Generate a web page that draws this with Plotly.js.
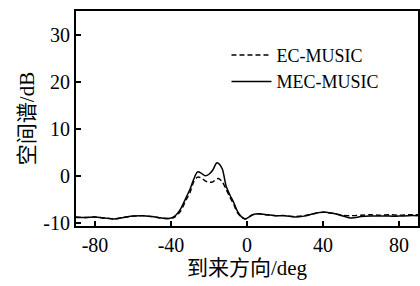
<!DOCTYPE html>
<html>
<head>
<meta charset="utf-8">
<script src="https://cdn.plot.ly/plotly-3.0.1.min.js"></script>
<style>html,body{margin:0;padding:0;background:#fff;}#chart{width:420px;height:286px;}</style>
</head>
<body>
<div id="chart"></div>
<script>
const angles = [-90,-85,-80,-75,-70,-65,-60,-55,-50,-45,-41,-38,-35,-32,-30,-28,-26,-24,-22,-20,-18,-16,-15,-13,-11,-9,-7,-5,-3,-1,1,3,6,10,15,20,25,30,35,40,45,50,55,60,65,70,75,80,85,90];
const ecMusic = [-8.7,-8.8,-8.7,-8.9,-9.1,-8.8,-8.5,-8.4,-8.6,-8.9,-9.0,-8.7,-7.5,-5.0,-3.5,-1.2,-0.2,-0.4,-1.0,-1.3,-1.2,-0.6,-0.5,-1.2,-2.8,-4.5,-6.0,-7.8,-8.7,-9.1,-8.7,-8.2,-8.0,-8.2,-8.4,-8.4,-8.6,-8.4,-8.0,-7.7,-7.9,-8.3,-8.4,-8.3,-8.2,-8.3,-8.2,-8.3,-8.2,-8.2];
const mecMusic = [-8.8,-8.8,-8.7,-8.9,-9.1,-8.8,-8.5,-8.4,-8.6,-8.9,-9.0,-8.5,-7.0,-4.5,-2.8,-0.6,0.9,0.6,0.1,0.4,1.3,2.8,2.7,1.5,-2.1,-4.0,-5.6,-7.5,-8.6,-9.1,-8.7,-8.2,-8.0,-8.2,-8.4,-8.4,-8.7,-8.5,-8.0,-7.6,-7.9,-8.4,-8.9,-8.6,-8.5,-8.5,-8.5,-8.5,-8.4,-8.4];
const xTicks = [-80,-40,0,40,80];
const yTicks = [-10,0,10,20,30];
const seriesNames = ['EC-MUSIC','MEC-MUSIC'];
const xTitle = '到来方向/deg';
const yTitle = '空间谱/dB';

const fam = 'Liberation Serif, Noto Sans CJK SC, serif';
const traces = [
  {x: angles, y: ecMusic, name: seriesNames[0], mode: 'lines', line: {color: '#000', width: 1.4, dash: '5px,3px', shape: 'spline', smoothing: 0.8}},
  {x: angles, y: mecMusic, name: seriesNames[1], mode: 'lines', line: {color: '#000', width: 1.5, shape: 'spline', smoothing: 0.8}}
];
const axisCommon = {showline: true, mirror: true, linecolor: '#000', linewidth: 2, ticks: 'inside', ticklen: 5, tickwidth: 1.5, tickcolor: '#000', showgrid: false, zeroline: false, tickfont: {family: fam, size: 20, color: '#000'}};
const layout = {
  width: 420, height: 286,
  margin: {l: 76, r: 2, t: 11, b: 60},
  paper_bgcolor: '#fff', plot_bgcolor: '#fff',
  showlegend: true,
  legend: {x: 0.44, y: 0.88, xanchor: 'left', yanchor: 'top', bgcolor: 'rgba(0,0,0,0)', font: {family: fam, size: 18, color: '#000'}, itemwidth: 40, tracegroupgap: 0},
  xaxis: Object.assign({}, axisCommon, {range: [-90, 90], tickvals: xTicks, ticktext: xTicks.map(String), title: {text: xTitle, font: {family: fam, size: 21, color: '#000'}, standoff: 4}}),
  yaxis: Object.assign({}, axisCommon, {range: [-10.6, 35.1], tickvals: yTicks, ticktext: yTicks.map(String), title: {text: yTitle, font: {family: fam, size: 21, color: '#000'}, standoff: 3}})
};
Plotly.newPlot('chart', traces, layout, {staticPlot: true, displayModeBar: false});
</script>
</body>
</html>
